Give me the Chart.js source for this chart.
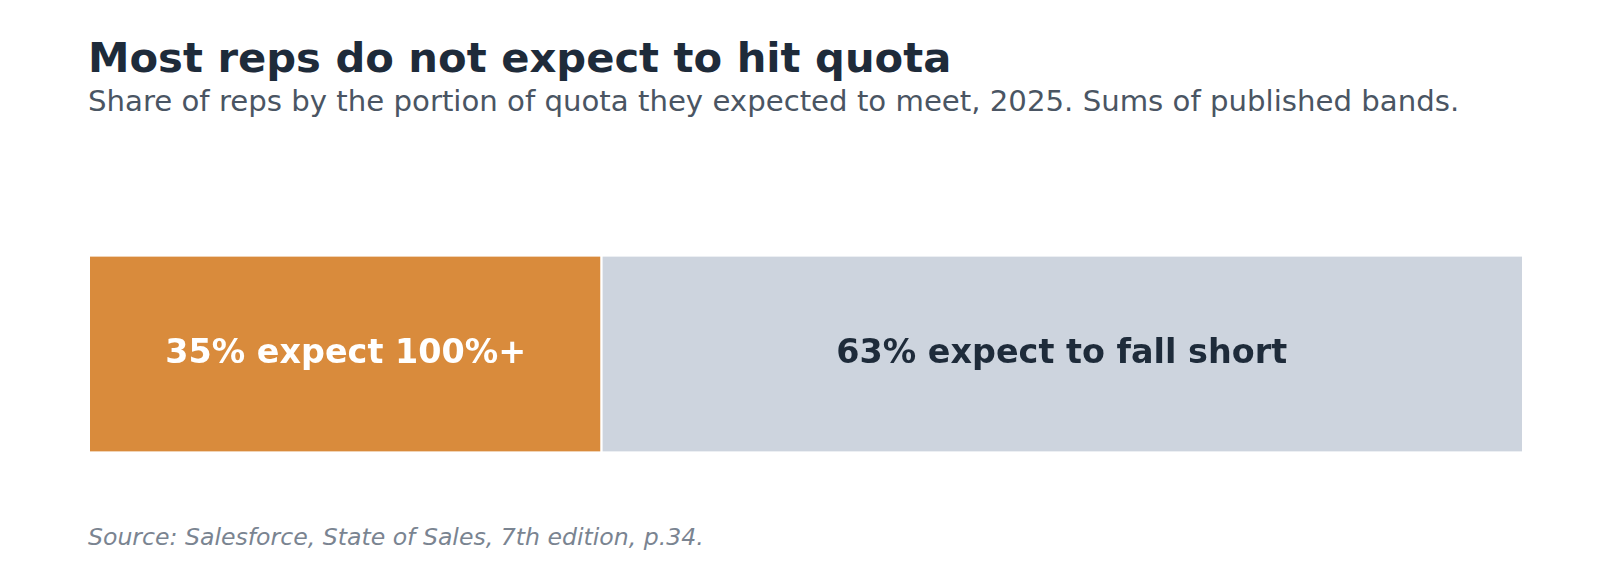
<!DOCTYPE html>
<html><head><meta charset="utf-8">
<script src="https://cdn.jsdelivr.net/npm/chart.js@4"></script>
<style>
body{margin:0;width:1600px;height:580px;background:#fff;font-family:"DejaVu Sans",sans-serif;position:relative;overflow:hidden}
#t{position:absolute;left:88px;top:33px;font-size:41.7px;font-weight:bold;color:#1e2b3a;white-space:nowrap}
#s{position:absolute;left:88px;top:84px;font-size:29.2px;color:#4a5563;white-space:nowrap}
#src{position:absolute;left:88px;top:523px;font-size:23.6px;font-style:italic;color:#7a8491;white-space:nowrap}
#w{position:absolute;left:90px;top:207px;width:1432px;height:294px}
</style></head><body>
<div id="t">Most reps do not expect to hit quota</div>
<div id="s">Share of reps by the portion of quota they expected to meet, 2025. Sums of published bands.</div>
<div id="w"><canvas id="c"></canvas></div>
<div id="src">Source: Salesforce, State of Sales, 7th edition, p.34.</div>
<script>
const categories=["Reps"];
const seriesNames=["35% expect 100%+","63% expect to fall short"];
const seriesValues=[[35],[63]];
const colors=["#d98b3c","#cdd4de"];
const textColors=["#ffffff","#1e2b3a"];
const labelPlugin={id:"lbl",afterDatasetsDraw(ch){const ctx=ch.ctx;ch.data.datasets.forEach((ds,i)=>{const m=ch.getDatasetMeta(i).data[0];const cx=(m.x+m.base)/2;ctx.save();ctx.font="bold 33.4px 'DejaVu Sans'";ctx.fillStyle=textColors[i];ctx.textAlign="center";ctx.textBaseline="middle";ctx.fillText(seriesNames[i],cx,m.y);ctx.restore();});}};
new Chart(document.getElementById("c"),{type:"bar",
data:{labels:categories,datasets:seriesValues.map((v,i)=>({label:seriesNames[i],data:v,backgroundColor:colors[i],borderColor:"#fff",borderWidth:{left:i?1.5:0,right:i?0:1.5,top:0,bottom:0},borderSkipped:false,barThickness:195}))},
options:{indexAxis:"y",responsive:true,maintainAspectRatio:false,animation:false,layout:{padding:0},
plugins:{legend:{display:false},tooltip:{enabled:false}},
scales:{x:{stacked:true,min:0,max:98,display:false},y:{stacked:true,display:false}}},
plugins:[labelPlugin]});
</script></body></html>
